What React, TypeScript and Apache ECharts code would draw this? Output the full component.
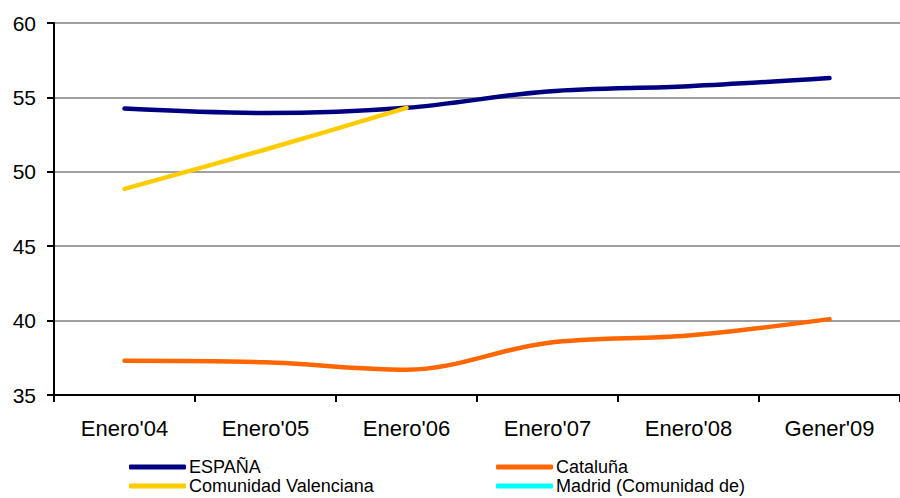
import React, { useEffect, useRef } from "react";
import * as echarts from "echarts";

const categories = ["Enero'04", "Enero'05", "Enero'06", "Enero'07", "Enero'08", "Gener'09"];
const espana = [54.25, 53.95, 54.3, 55.4, 55.75, 56.3];
const cataluna = [37.3, 37.2, 36.7, 38.5, 39.0, 40.1];
const valenciana = [48.85, 51.5, 54.3, null, null, null];
const madrid: (number | null)[] = [null, null, null, null, null, null];
const yTicks = { min: 35, max: 60, interval: 5 };

export default function App() {
  const ref = useRef<HTMLDivElement>(null);
  useEffect(() => {
    if (!ref.current) return;
    const chart = echarts.init(ref.current, undefined, { renderer: "svg" });
    const font = "'Liberation Sans', Arial, sans-serif";
    const lineSeries = (name: string, data: (number | null)[], color: string) => ({
      name,
      type: "line",
      data,
      smooth: 0.35,
      showSymbol: false,
      symbol: "none",
      lineStyle: { color, width: 4.5, cap: "round" },
      itemStyle: { color },
    });
    const legendItem = (name: string, left: number, top: number) => ({
      orient: "horizontal",
      left,
      top,
      padding: 0,
      itemWidth: 57,
      itemHeight: 5,
      icon: "roundRect",
      textStyle: { color: "#000", fontSize: 18, lineHeight: 18, fontFamily: font, padding: [0, 0, 0, -2] },
      data: [name],
    });
    chart.setOption({
      animation: false,
      backgroundColor: "#ffffff",
      textStyle: { fontFamily: font },
      grid: { left: 54, top: 23, width: 852, height: 372, containLabel: false },
      xAxis: {
        type: "category",
        data: categories,
        boundaryGap: true,
        axisLine: { lineStyle: { color: "#000", width: 2 } },
        axisTick: { show: true, length: 7, lineStyle: { color: "#000", width: 2 } },
        axisLabel: { color: "#000", fontSize: 22, margin: 22, fontFamily: font },
        splitLine: { show: false },
      },
      yAxis: {
        type: "value",
        min: yTicks.min,
        max: yTicks.max,
        interval: yTicks.interval,
        axisLine: { show: true, lineStyle: { color: "#000", width: 2 } },
        axisTick: { show: true, length: 7, lineStyle: { color: "#000", width: 2 } },
        axisLabel: { color: "#000", fontSize: 21, margin: 18, fontFamily: font },
        splitLine: { show: true, lineStyle: { color: "#808080", width: 1.5 } },
      },
      legend: [
        legendItem("ESPAÑA", 129, 458),
        legendItem("Comunidad Valenciana", 129, 477),
        legendItem("Cataluña", 496, 458),
        legendItem("Madrid (Comunidad de)", 496, 477),
      ],
      series: [
        lineSeries("ESPAÑA", espana, "#000080"),
        lineSeries("Cataluña", cataluna, "#FF6600"),
        lineSeries("Comunidad Valenciana", valenciana, "#FFCC00"),
        lineSeries("Madrid (Comunidad de)", madrid, "#00FFFF"),
      ],
    });
    return () => chart.dispose();
  }, []);
  return <div ref={ref} style={{ width: 900, height: 498, position: "absolute", left: 0, top: 0 }} />;
}
